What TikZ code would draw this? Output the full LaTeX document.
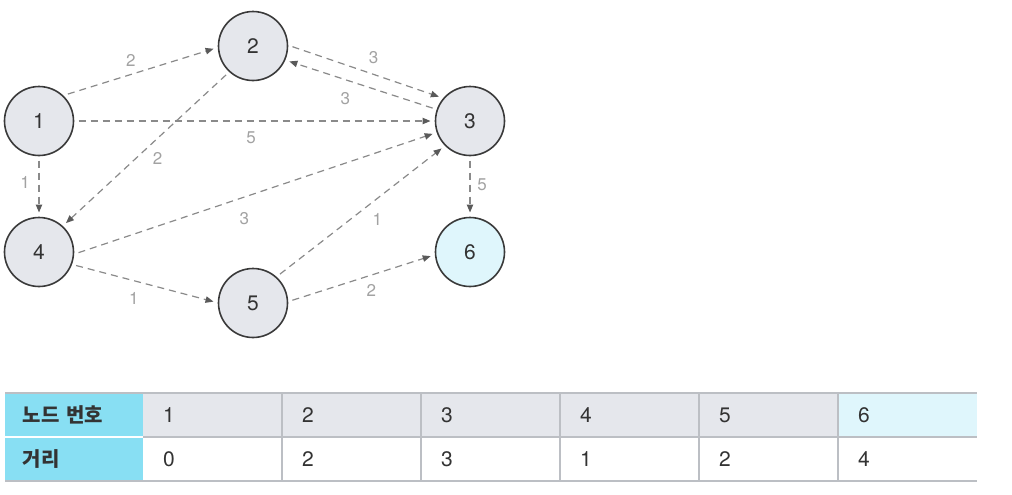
\documentclass[tikz,border=0pt]{standalone}
\usepackage{fontspec}
\setmainfont{TeX Gyre Heros}
\newfontfamily\krfont{Noto Sans CJK KR}
\usepackage{tikz}
\usetikzlibrary{arrows.meta}
\usepackage{xcolor}
\definecolor{nodefill}{HTML}{E5E7EC}
\definecolor{nodeline}{HTML}{3A3A3A}
\definecolor{goalfill}{HTML}{DFF6FC}
\definecolor{headfill}{HTML}{88DFF3}
\definecolor{edgegray}{HTML}{8A8A8A}
\definecolor{tipgray}{HTML}{5A5A5A}
\definecolor{labelgray}{HTML}{A2A2A2}
\definecolor{rulegray}{HTML}{BCBFC4}
\definecolor{textdark}{HTML}{333333}

\begin{document}
\begin{tikzpicture}[x=0.5pt, y=-0.5pt,
    vertex/.style={draw=nodeline, circle, line width=0.8pt, fill=nodefill, minimum size=34.5pt, inner sep=0pt, outer sep=2.5pt, text=textdark, font=\fontsize{10.5}{12}\selectfont},
    link/.style={draw=edgegray, line width=0.6pt, dash pattern=on 3.5pt off 2.5pt, -{Triangle[length=4pt, width=3.2pt, color=tipgray]}},
    weight/.style={text=labelgray, font=\fontsize{8.5}{10}\selectfont, inner sep=0pt, anchor=center},
    cell/.style={anchor=north west, inner xsep=10pt, outer sep=0pt, text width=49.5pt, minimum height=22pt, align=left, text=textdark, font=\fontsize{10.5}{12}\selectfont},
    headcell/.style={cell, fill=headfill, inner xsep=9pt, text width=51pt, font=\krfont\bfseries\fontsize{10}{12}\selectfont},
    rule/.style={draw=rulegray, line width=0.6pt}]
    \useasboundingbox (0, 0) rectangle (1012, 494);

    \node[vertex] (v1) at (39, 121) {1};
    \node[vertex] (v2) at (253, 46) {2};
    \node[vertex] (v3) at (470, 121) {3};
    \node[vertex] (v4) at (39, 252) {4};
    \node[vertex] (v5) at (253, 303) {5};
    \node[vertex, fill=goalfill] (v6) at (470, 252) {6};

    \draw[link] (v1.43) -- node[weight, pos=.46, xshift=-2pt, yshift=6.5pt] {2} (v2.184);
    \draw[link] (v2.-1.5) -- node[weight, pos=.52, xshift=2.5pt, yshift=7.3pt] {3} (v3.142);
    \draw[link] (v3.161.7) -- node[weight, pos=.57, xshift=-2.8pt, yshift=-8.5pt] {3} (v2.-23.8);
    \draw[link] (v1) -- node[weight, pos=.49, yshift=-8.5pt] {5} (v3);
    \draw[link] (v2.227) -- node[weight, pos=.49, xshift=5pt, yshift=-5.5pt] {2} (v4.47);
    \draw[link] (v1) -- node[weight, pos=.43, xshift=-7pt] {1} (v4);
    \draw[link] (v4.-1.5) -- node[weight, pos=.45, xshift=3.2pt, yshift=-9.5pt] {3} (v3.199);
    \draw[link] (v4.-20) -- node[weight, pos=.45, xshift=-2.1pt, yshift=-8.2pt] {1} (v5.178.6);
    \draw[link] (v5.47.7) -- node[weight, pos=.54, xshift=5.1pt, yshift=-6.7pt] {1} (v3.224);
    \draw[link] (v5.4.8) -- node[weight, pos=.54, xshift=2.1pt, yshift=-6.9pt] {2} (v6.186.6);
    \draw[link] (v3) -- node[weight, pos=.47, xshift=6pt] {5} (v6);

    % distance table
    \node[headcell] (h1) at (5, 393) {노드 번호};
    \node[headcell] (h2) at (5, 437) {거리};
    \foreach \i/\d/\c in {1/0/nodefill, 2/2/nodefill, 3/3/nodefill, 4/1/nodefill, 5/2/nodefill, 6/4/goalfill} {
        \node[cell, fill=\c] (a\i) at ({143+139*(\i-1)}, 393) {\i};
        \node[cell, fill=white] (b\i) at ({143+139*(\i-1)}, 437) {\d};
    }
    \draw[white, line width=0.8pt] (h1.south west) -- (h1.south east);
    \draw[rule] (h1.north west) -- (a6.north east);
    \draw[rule] (a1.south west) -- (a6.south east);
    \draw[rule] (h2.south west) -- (b6.south east);
    \foreach \i in {2,...,6}
        \draw[rule] (a\i.north west) -- (b\i.south west);
\end{tikzpicture}
\end{document}
